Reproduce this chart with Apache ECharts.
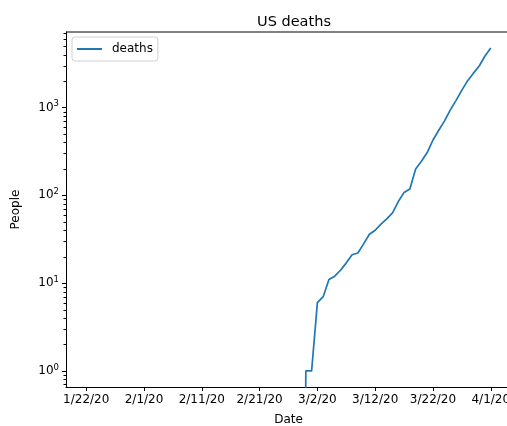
<!DOCTYPE html>
<html><head><meta charset="utf-8">
<script src="https://cdn.jsdelivr.net/npm/echarts@6/dist/echarts.min.js"></script>
<style>html,body{margin:0;padding:0;background:#fff}#c{width:507px;height:426px}</style>
</head><body><div id="c"></div>
<script>
// Dates from 1/22/20 to 4/1/20 (one per day)
const startDate = [2020, 0, 22];
// US cumulative deaths per day
const deaths = [
  0,0,0,0,0,0,0,0,0,0, // 1/22 - 1/31
  0,0,0,0,0,0,0,0,0,0, // 2/1 - 2/10
  0,0,0,0,0,0,0,0,0,0, // 2/11 - 2/20
  0,0,0,0,0,0,0,0,      // 2/21 - 2/28
  1,1,                  // 2/29, 3/1
  6,7,11,12,14,17,21,22,28,36, // 3/2 - 3/11
  40,47,54,63,85,108,118,200,244,307, // 3/12 - 3/21
  427,552,706,942,1209,1581,2026,2467,2978,3873, // 3/22 - 3/31
  4757 // 4/1
];
const xTickDays = [0,10,20,30,40,50,60,70];
const yMajorTicks = [1,10,100,1000];
const yMinorTicks = [0.7,0.8,0.9,2,3,4,5,6,7,8,9,20,30,40,50,60,70,80,90,200,300,400,500,600,700,800,900,2000,3000,4000,5000,6000,7000];

function dayLabel(i){
  const d = new Date(Date.UTC(startDate[0], startDate[1], startDate[2] + i));
  return (d.getUTCMonth()+1) + '/' + d.getUTCDate() + '/' + String(d.getUTCFullYear()).slice(2);
}
// log scale: non-positive values clipped to a tiny positive value (like matplotlib)
const seriesData = deaths.map((v,i) => [i, v > 0 ? v : 1e-10]);

const yMin = Math.pow(10, -0.184), yMax = Math.pow(10, 3.861);
const font = 'DejaVu Sans';
const gridLeft = 66, gridTop = 32;
const chart = echarts.init(document.getElementById('c'), null, {renderer:'canvas'});
chart.setOption({
  animation:false,
  backgroundColor:'#fff',
  title:{text:'US deaths', left:289, top:10, textAlign:'center',
    textStyle:{fontFamily:font, fontSize:14.5, fontWeight:'normal', color:'#000'}},
  legend:{left:72, top:37, padding:[6,5,6,5], itemWidth:25, itemHeight:2, itemGap:5,
    borderColor:'#d0d0d0', borderWidth:1, borderRadius:3,
    icon:'rect',
    textStyle:{fontFamily:font, fontSize:12, color:'#000', padding:[0,0,0,5]}, data:['deaths']},
  grid:{left:gridLeft, width:445, top:gridTop, bottom:39, containLabel:false, outerBoundsMode:'none'},
  xAxis:{type:'value', min:-3.5, max:73.5,
    name:'Date', nameLocation:'middle', nameGap:27,
    nameTextStyle:{fontFamily:font, fontSize:12, color:'#000'},
    axisLine:{show:true, onZero:false, lineStyle:{color:'#000', width:1}},
    axisTick:{show:true, customValues:xTickDays, length:4, lineStyle:{color:'#000'}},
    axisLabel:{customValues:xTickDays, formatter:v=>dayLabel(Math.round(v)),
      fontFamily:font, fontSize:12, color:'#000', margin:7},
    splitLine:{show:false}},
  yAxis:{type:'log', min:yMin, max:yMax, logBase:10, position:'left',
    name:'People', nameLocation:'middle', nameGap:44, nameRotate:90,
    nameTextStyle:{fontFamily:font, fontSize:12, color:'#000'},
    axisLine:{show:true, onZero:false, lineStyle:{color:'#000', width:1}},
    axisTick:{show:true, customValues:yMajorTicks, length:4, lineStyle:{color:'#000'}},
    axisLabel:{customValues:yMajorTicks, margin:7,
      formatter:v=>'{b|10}{s|'+Math.round(Math.log10(v))+'}',
      rich:{b:{fontFamily:font, fontSize:12, color:'#000'},
            s:{fontFamily:font, fontSize:8.5, color:'#000', verticalAlign:'top', padding:[0,0,7,0]}}},
    splitLine:{show:false}},
  series:[{name:'deaths', type:'line', data:seriesData, showSymbol:false, symbol:'none',
    clip:true, lineStyle:{color:'#1f77b4', width:1.7}, itemStyle:{color:'#1f77b4'}}]
});
// top spine + minor log ticks (positioned through the chart's own y scale)
const graphics = [{type:'line', shape:{x1:gridLeft, y1:gridTop, x2:507, y2:gridTop}, style:{stroke:'#000', lineWidth:1}}];
yMinorTicks.forEach(v => {
  const y = Math.round(chart.convertToPixel({yAxisIndex:0}, v)) + 0.5;
  if (isFinite(y)) graphics.push({type:'line', silent:true,
    shape:{x1:gridLeft - 2.5, y1:y, x2:gridLeft, y2:y}, style:{stroke:'#000', lineWidth:1}});
});
chart.setOption({graphic:graphics});
</script></body></html>
